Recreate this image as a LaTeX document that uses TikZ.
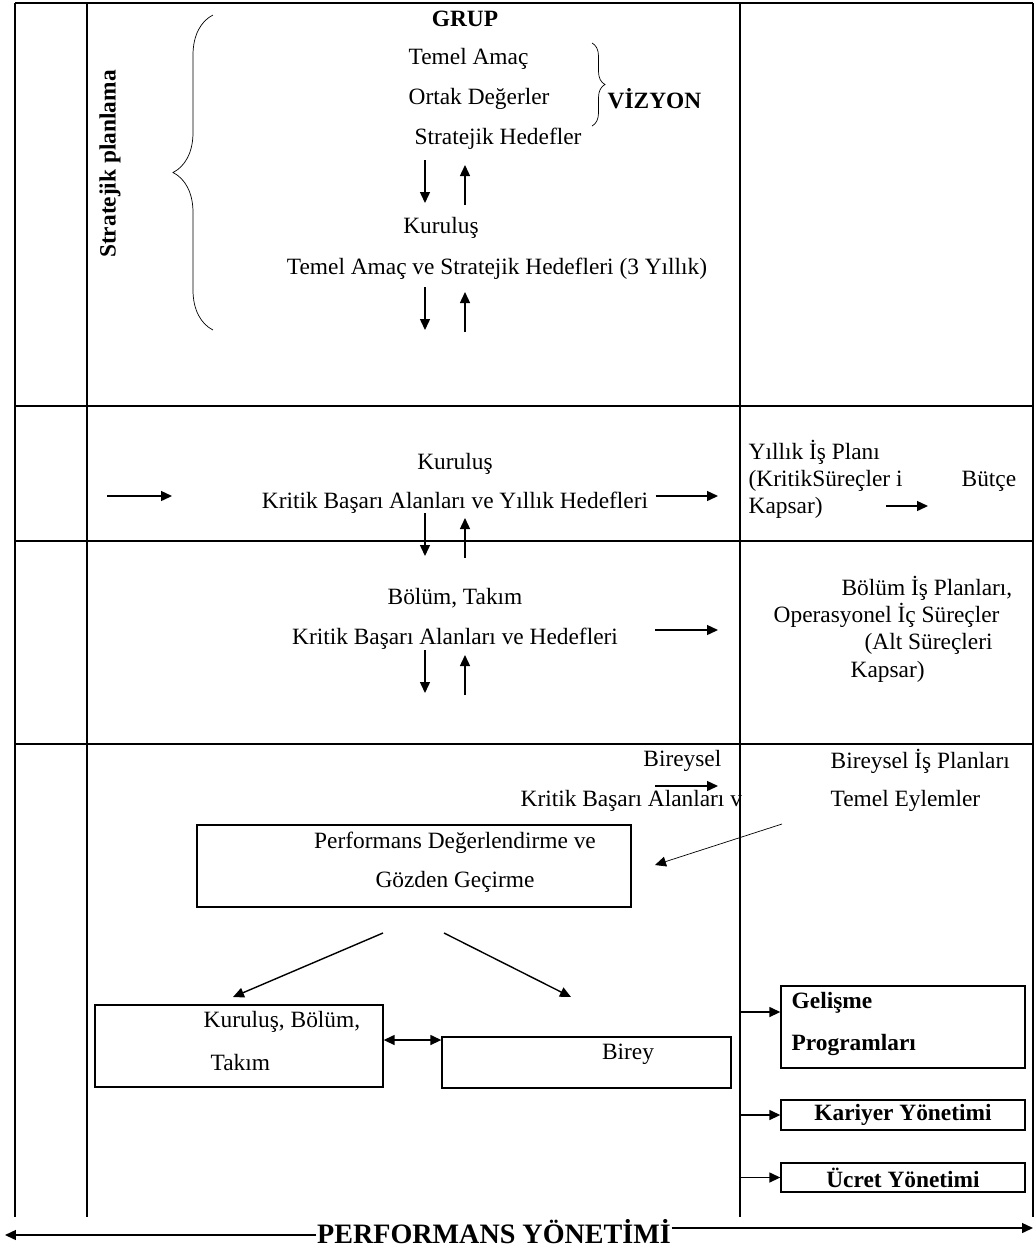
\documentclass[tikz,border=0pt]{standalone}
\usepackage{fontspec}
\setmainfont{Liberation Serif}
\usepackage{tikz}
\usetikzlibrary{arrows.meta,decorations.pathreplacing}
\tikzstyle{lbl} = [inner sep=0pt, yshift=-0.04cm, font=\fontsize{13.3}{15}\selectfont]
\tikzstyle{bld} = [inner sep=0pt, yshift=-0.04cm, font=\bfseries\fontsize{13.3}{15}\selectfont]
\tikzstyle{box} = [rectangle, draw, inner sep=0pt, line width=0.8pt]
\tikzstyle{bbox} = [box, font=\bfseries\fontsize{13.3}{15}\selectfont]
\tikzstyle{brc} = [decorate, thin]

\begin{document}
\begin{tikzpicture}[x=0.02cm,y=-0.02cm,->,>={Triangle[length=2.2mm,width=2mm]},line width=0.8pt]
  \useasboundingbox (0,0) rectangle (1035,1249);
  % frame
  \draw[-] (15,3) -- (1033,3);
  \foreach \y in {406,541,744} \draw[-] (15,\y) -- (1033,\y);
  \foreach \x in {15,87,740,1033} \draw[-] (\x,3) -- (\x,1217);

  % stratejik planlama
  \node[bld, rotate=90] (Strat_Plan) at (110,162) {Stratejik planlama};
  \draw[brc, -, decoration={brace, amplitude=0.8cm}] (213,330) -- (213,15);
  \node[bld] (Grup) at (465,17) {GRUP};
  \node[lbl, anchor=west] (Temel_Amac) at (408,57) {Temel Amaç};
  \node[lbl, anchor=west] (Ortak_Degerler) at (408,97) {Ortak Değerler};
  \node[lbl, anchor=west] (Strat_Hedefler) at (414,137) {Stratejik Hedefler};
  \draw[brc, -, decoration={brace, amplitude=0.26cm}] (592,43) -- (592,126);
  \node[bld, anchor=west] (Vizyon) at (607,97) {VİZYON};
  \node[lbl] (Kurulus_1) at (441,226) {Kuruluş};
  \node[lbl] (Temel_Amac_3) at (497,267) {Temel Amaç ve Stratejik Hedefleri (3 Yıllık)};

  % up / down arrows
  \foreach \t/\b [count=\i] in {160/203, 287/330, 513/556, 650/693} {
    \coordinate (Dn_s\i) at (425,\t);
    \coordinate (Dn_e\i) at (425,\b);
    \coordinate (Up_s\i) at (465,\b+2);
    \coordinate (Up_e\i) at (465,\t+5);
    \draw (Dn_s\i) -- (Dn_e\i);
    \draw (Up_s\i) -- (Up_e\i);
  }

  % kurulus
  \coordinate (In_s) at (107,496);
  \coordinate (In_e) at (172,496);
  \draw (In_s) -- (In_e);
  \node[lbl] (Kurulus_2) at (455,462) {Kuruluş};
  \node[lbl] (KBA_Yillik) at (455,501) {Kritik Başarı Alanları ve Yıllık Hedefleri};
  \coordinate (Out_e1) at (718,496);
  \draw ([xshift=0.14cm]KBA_Yillik.east |- Out_e1) -- (Out_e1);
  \node[lbl, anchor=west] (Yillik_Plan) at (748,450) {Yıllık İş Planı};
  \node[lbl, anchor=west] (Kritik_Surec) at (748,479) {(KritikSüreçler i};
  \node[lbl, anchor=west] (Kapsar_1) at (748,506) {Kapsar)};
  \node[lbl, anchor=west] (Butce) at (961,479) {Bütçe};
  \coordinate (Bt_s) at (886,506);
  \coordinate (Bt_e) at (928,506);
  \draw (Bt_s) -- (Bt_e);

  % bolum, takim
  \node[lbl] (Bolum_Takim) at (455,596) {Bölüm, Takım};
  \node[lbl] (KBA_Hedefler) at (455,637) {Kritik Başarı Alanları ve Hedefleri};
  \coordinate (Out_s2) at (655,630);
  \coordinate (Out_e2) at (718,630);
  \draw (Out_s2) -- (Out_e2);
  \node[lbl, anchor=east] (Bolum_Plan) at (1013,586) {Bölüm İş Planları,};
  \node[lbl, anchor=west] (Operasyonel) at (773,613) {Operasyonel İç Süreçler};
  \node[lbl, anchor=west] (Alt_Surec) at (864,642) {(Alt Süreçleri};
  \node[lbl, anchor=west] (Kapsar_2) at (850,670) {Kapsar)};

  % bireysel
  \node[lbl, anchor=east] (Bireysel) at (722,759) {Bireysel};
  \node[lbl, anchor=west] (KBA_Bireysel) at (520,799) {Kritik Başarı Alanları v};
  \coordinate (Out_s3) at (655,786);
  \coordinate (Out_e3) at (718,786);
  \draw (Out_s3) -- (Out_e3);
  \node[lbl, anchor=west] (Bireysel_Plan) at (830,759) {Bireysel İş Planları};
  \node[lbl, anchor=west] (Temel_Eylem) at (830,799) {Temel Eylemler};

  % performans degerlendirme
  \node[box, minimum width=8.68cm, minimum height=1.64cm] (Perf_Box) at (414,866) {};
  \node[lbl] (Perf_Deg) at (455,841) {Performans Değerlendirme ve};
  \node[lbl] (Gozden) at (455,880) {Gözden Geçirme};
  \coordinate (Eylem_s) at (782,824);
  \coordinate (Eylem_e) at (655,865);
  \draw[thin] (Eylem_s) -- (Eylem_e);
  \coordinate (Sol_s) at (383,933);
  \coordinate (Sol_e) at (233,997);
  \coordinate (Sag_s) at (444,933);
  \coordinate (Sag_e) at (571,997);
  \draw (Sol_s) -- (Sol_e);
  \draw (Sag_s) -- (Sag_e);

  \node[box, minimum width=5.76cm, minimum height=1.64cm] (Kbt_Box) at (239,1046) {};
  \node[lbl, anchor=west] (Kbt_1) at (203,1020) {Kuruluş, Bölüm,};
  \node[lbl, anchor=west] (Kbt_2) at (210,1060) {Takım};
  \node[box, minimum width=5.78cm, minimum height=1.02cm] (Birey_Box) at (586.5,1062.5) {};
  \node[lbl] (Birey) at (628,1052) {Birey};
  \draw[<->] ([yshift=0.12cm]Kbt_Box.east) -- ([yshift=0.12cm]Kbt_Box.east -| Birey_Box.west);

  % sag kutular
  \node[box, minimum width=4.88cm, minimum height=1.64cm] (Gelisme_Box) at (903,1027) {};
  \node[bld, anchor=west] (Gelisme_1) at (791,1001) {Gelişme};
  \node[bld, anchor=west] (Gelisme_2) at (791,1043) {Programları};
  \node[bbox, minimum width=4.88cm, minimum height=0.6cm] (Kariyer) at (903,1115) {Kariyer Yönetimi};
  \node[bbox, minimum width=4.88cm, minimum height=0.58cm] (Ucret) at (903,1177.5) {Ücret Yönetimi};
  \coordinate (Gel_s) at (740,1012);
  \coordinate (Kar_s) at (740,1115);
  \coordinate (Ucr_s) at (740,1177.5);
  \draw (Gel_s) -- (Gelisme_Box.west |- Gel_s);
  \draw (Kar_s) -- (Kariyer.west);
  \draw (Ucr_s) -- (Ucret.west);

  % performans yonetimi
  \node[inner sep=0pt, anchor=base, font=\bfseries\fontsize{16}{18}\selectfont] (Perf_Yon) at (494,1243) {PERFORMANS YÖNETİMİ};
  \coordinate (Py_sol) at (5,1235);
  \coordinate (Py_sag) at (1033,1228);
  \draw (Perf_Yon.west |- Py_sol) -- (Py_sol);
  \draw (Perf_Yon.east |- Py_sag) -- (Py_sag);
\end{tikzpicture}
\end{document}
